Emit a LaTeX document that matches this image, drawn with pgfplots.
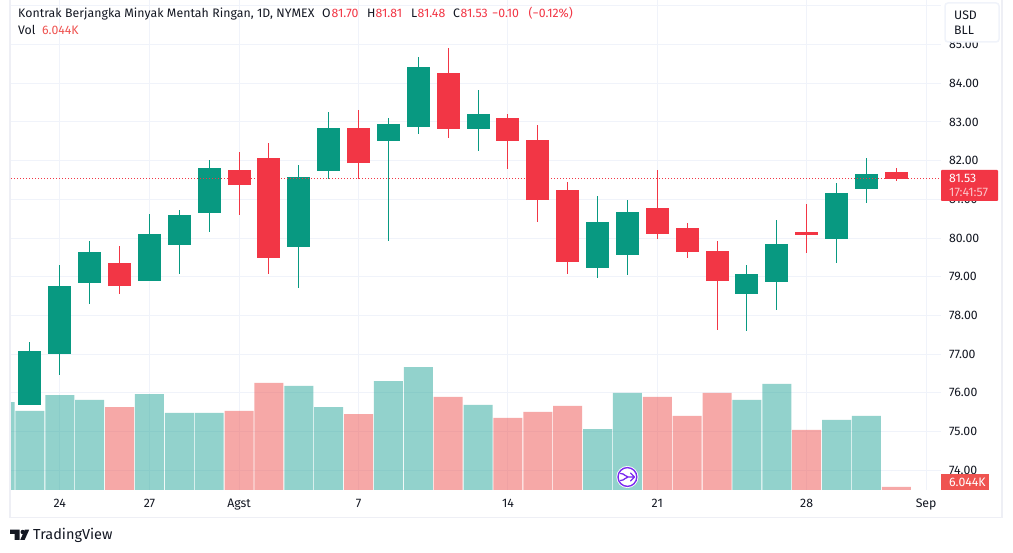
\documentclass[border=0pt]{standalone}
\usepackage{fontspec}
\setmainfont{Fira Sans}
\usepackage{pgfplots}
\usepackage{pgfplotstable}
\pgfplotsset{compat=1.18}

\definecolor{upcol}{HTML}{089981}
\definecolor{downcol}{HTML}{F23645}
\definecolor{volup}{HTML}{26A69A}
\definecolor{voldown}{HTML}{EF5350}
\definecolor{gridcol}{HTML}{F0F3FA}
\definecolor{framecol}{HTML}{EEEFF5}
\definecolor{txt}{HTML}{131722}
\definecolor{purp}{HTML}{7A2BF0}

% daily candles, i = bar index on the time axis
\pgfplotstableread{
i  O     H     L     C
0  75.69 77.32 75.69 77.08
1  77.01 79.30 76.46 78.76
2  78.84 79.93 78.30 79.64
4  78.89 80.62 78.89 80.11
5  79.82 80.73 79.07 80.60
6  80.65 82.02 80.16 81.81
9  79.77 81.89 78.71 81.58
10 81.73 83.26 81.53 82.84
12 82.51 83.10 79.93 82.95
13 82.87 84.68 82.69 84.42
15 82.82 83.83 82.25 83.21
19 79.23 81.09 78.97 80.42
20 79.56 80.98 79.05 80.67
24 78.56 79.30 77.60 79.07
25 78.87 80.47 78.14 79.85
27 79.98 81.42 79.36 81.17
28 81.27 82.07 80.91 81.66
}\upcandles
\pgfplotstableread{
i  O     H     L     C
3  79.36 79.80 78.56 78.76
7  81.76 82.22 80.60 81.37
8  82.07 82.46 79.07 79.49
11 82.84 83.31 81.53 81.94
14 84.27 84.91 82.59 82.82
16 83.10 83.21 81.79 82.51
17 82.53 82.92 80.42 80.98
18 81.24 81.45 79.07 79.38
21 80.78 81.76 79.98 80.11
22 80.26 80.39 79.49 79.64
23 79.67 79.93 77.63 78.89
26 80.16 80.88 79.62 80.08
29 81.70 81.81 81.48 81.53
}\downcandles

% volume in thousands
\pgfplotstableread{
i  v
-1 177.3
0  159.2
1  191.4
2  181.4
4  193.4
5  155.2
6  155.2
9  209.6
10 167.2
12 219.6
13 247.8
15 171.3
19 122.9
20 195.5
24 181.4
25 213.6
27 141.1
28 149.1
}\upvol
\pgfplotstableread{
i  v
3  167.2
7  159.2
8  215.6
11 153.1
14 187.4
16 145.1
17 157.2
18 169.3
21 187.4
22 149.1
23 195.5
26 120.9
29 6.044
}\downvol

\pgfplotsset{
  chartpane/.style={
    scale only axis, width=930pt, height=490pt,
    at={(11pt,63pt)}, anchor=south west,
    xmin=-0.636, xmax=30.498,
  },
  wick/.style={draw=none, mark=none, forget plot,
    error bars/.cd, y dir=both, y explicit, error mark=none,
    error bar style={draw=#1, line width=1pt}},
  body/.style={draw=none, mark=none, forget plot,
    error bars/.cd, y dir=both, y explicit, error mark=none,
    error bar style={draw=#1, line width=23pt}},
}

\begin{document}
\begin{tikzpicture}
\path[use as bounding box] (0pt,0pt) rectangle (1013pt,553pt);
\fill[white] (0pt,0pt) rectangle (1013pt,553pt);

% frame of the chart
\draw[framecol, line width=1.6pt] (10pt,553pt) -- (10pt,35.3pt) -- (1002pt,35.3pt) -- (1002pt,553pt);

% price pane
\begin{axis}[
    chartpane,
    ymin=73.491, ymax=86.152,
    xtick={1,4,7,11,16,21,26,30},
    xticklabels={24,27,Agst,7,14,21,28,Sep},
    ytick={74,75,...,85},
    extra y ticks={86},
    extra y tick labels={},
    yticklabel pos=right,
    yticklabel style={anchor=west, inner sep=0pt, xshift=8pt, font=\fontsize{12.3}{12}\selectfont, text=txt,
      /pgf/number format/fixed, /pgf/number format/fixed zerofill, /pgf/number format/precision=2,
      /pgf/number format/assume math mode=true},
    xticklabel style={anchor=base, yshift=-18pt, font=\fontsize{12.3}{12}\selectfont, text=txt},
    grid=major,
    grid style={gridcol, line width=1pt},
    axis line style={draw=none},
    major tick length=0pt,
    tick style={draw=none},
]
\addplot[wick=upcol] table[x=i, y=C, y error plus expr=\thisrow{H}-\thisrow{C}, y error minus expr=\thisrow{C}-\thisrow{L}] {\upcandles};
\addplot[body=upcol] table[x=i, y=C, y error plus expr=0, y error minus expr=\thisrow{C}-\thisrow{O}] {\upcandles};
\addplot[wick=downcol] table[x=i, y=C, y error plus expr=\thisrow{H}-\thisrow{C}, y error minus expr=\thisrow{C}-\thisrow{L}] {\downcandles};
\addplot[body=downcol] table[x=i, y=C, y error plus expr=\thisrow{O}-\thisrow{C}, y error minus expr=0] {\downcandles};
% last price line
\addplot[downcol, line width=1pt, dash pattern=on 1pt off 2pt, forget plot] coordinates {(-0.636,81.53) (30.498,81.53)};
\end{axis}

% volume pane, same rectangle
\begin{axis}[
    chartpane,
    hide axis,
    ymin=0, ymax=987.35,
    ybar, bar width=29pt, bar shift=0pt,
]
\addplot[draw=none, fill=volup, fill opacity=0.5] table[x=i, y=v] {\upvol};
\addplot[draw=none, fill=voldown, fill opacity=0.5] table[x=i, y=v] {\downvol};
\end{axis}

\begin{scope}[x=1pt, y=1pt]
% header
\begin{scope}[every node/.style={inner sep=0pt, anchor=base west, font=\fontsize{12.3}{12}\selectfont}]
\node[text=txt, font=\fontsize{12.3}{12}\selectfont\addfontfeatures{LetterSpace=0.5}] at (18,535) {Kontrak Berjangka Minyak Mentah Ringan, 1D, NYMEX};
\node[text=txt] at (322,535) {O};
\node[text=downcol] at (331.5,535) {81.70};
\node[text=txt] at (367,535) {H};
\node[text=downcol] at (375.5,535) {81.81};
\node[text=txt] at (411,535) {L};
\node[text=downcol] at (417.5,535) {81.48};
\node[text=txt] at (453,535) {C};
\node[text=downcol] at (460.5,535) {81.53};
\node[text=downcol] at (492,535) {−0.10};
\node[text=downcol] at (528.5,535) {(−0.12\%)};
\node[text=txt] at (18,518) {Vol};
\node[text=voldown] at (42,518) {6.044K};

% unit button
\draw[gridcol, line width=1.5pt, fill=white, rounded corners=3pt] (945,550) rectangle (999,511);
\node[text=txt] at (954,533) {USD};
\node[text=txt] at (954,518) {BLL};

% price and volume tags
\fill[downcol, rounded corners=0.8pt] (941,383) rectangle (998,352);
\node[text=white] at (949,370) {81.53};
\node[text=white, opacity=0.7] at (949,356) {17:41:57};
\fill[voldown] (941,79) rectangle (989,63);
\node[text=white] at (949,66.3) {6.044K};
\end{scope}

% event icon
\fill[white] (627.4,76) circle (11);
\draw[purp, line width=1.4pt] (627.4,76) circle (9.4);
\draw[purp, line width=1.3pt, line cap=round, line join=round]
  (620.5,79.5) .. controls (625,79.5) and (625,76) .. (628,76) -- (634,76)
  (620.5,72.5) .. controls (625,72.5) and (625,76) .. (628,76)
  (630.5,80) -- (634.5,76) -- (630.5,72);

% TradingView logo
\fill[txt] (10,23.3) -- (19.5,23.3) -- (19.5,13) -- (14.5,13) -- (14.5,19) -- (10,19) -- cycle;
\fill[txt] (22.7,21) circle (2.2);
\fill[txt] (24.8,23.3) -- (29.2,23.3) -- (24.6,13) -- (20.2,13) -- cycle;
\node[inner sep=0pt, anchor=base west, text=txt, font=\fontsize{14.5}{14.5}\selectfont] at (33,13) {TradingView};
\end{scope}
\end{tikzpicture}
\end{document}
